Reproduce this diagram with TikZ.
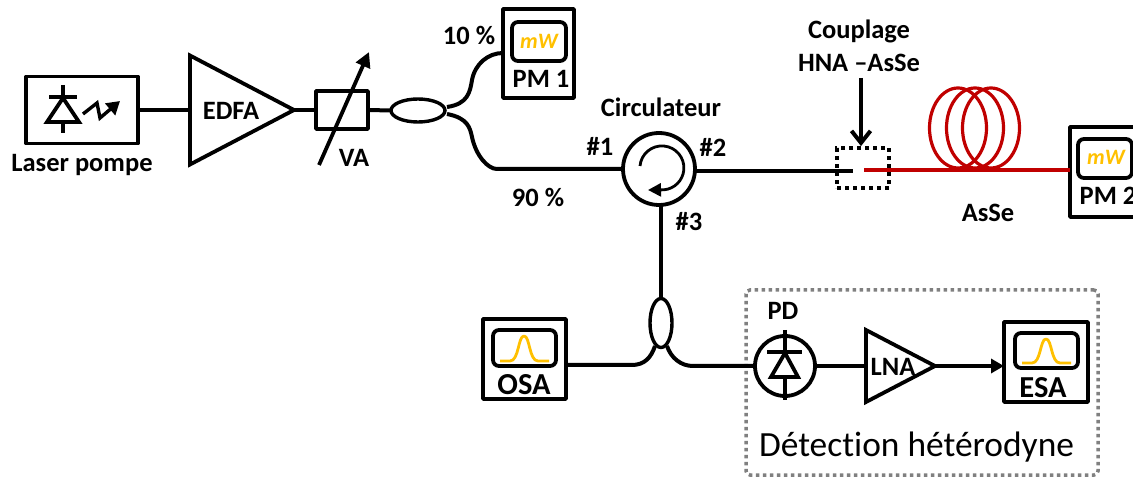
\documentclass[tikz,border=0pt]{standalone}
\usepackage{fontspec}
\setmainfont{Carlito}[Ligatures=NoCommon]
\usetikzlibrary{arrows.meta,shapes.geometric}
\definecolor{fibrered}{HTML}{C00000}
\definecolor{amber}{HTML}{FFC000}
\definecolor{framegray}{HTML}{808080}
\tikzset{
  fibre/.style={line width=4pt,line cap=butt},
  redfibre/.style={line width=3.8pt,color=fibrered},
  instr/.style={draw,line width=3.8pt,rectangle,inner sep=0pt,outer sep=0pt,line join=round},
  screen/.style={draw,line width=3.8pt,rectangle,rounded corners=6pt,inner sep=0pt,outer sep=0pt},
  ampli/.style={draw,line width=3.8pt,isosceles triangle,isosceles triangle stretches,inner sep=0pt,outer sep=0pt,shape border rotate=0,anchor=lower side},
  roundel/.style={draw,line width=3.8pt,circle,inner sep=0pt,outer sep=0pt},
  splitter/.style={draw,line width=3.4pt,ellipse,inner sep=0pt,outer sep=0pt},
  coil/.style={draw=fibrered,line width=3.2pt,ellipse,inner sep=0pt,outer sep=0pt,minimum width=57pt,minimum height=80pt},
  lbl/.style={font=\fontsize{26.5}{33}\selectfont\bfseries,inner sep=0pt,align=center},
  biglbl/.style={font=\fontsize{30.5}{33}\selectfont\bfseries,inner sep=0pt},
  unit/.style={font=\fontsize{22}{24}\selectfont\bfseries\itshape,text=amber,inner sep=0pt},
  peak/.style={draw=amber,line width=2.8pt,line join=round},
  pin/.style={line width=4pt},
  symb/.style={line width=3.8pt,line join=miter},
}
\begin{document}
\begin{tikzpicture}[x=1pt,y=-1pt]
\clip (0,0) rectangle (1133,478);

% detection frame
\node[draw=framegray,line width=3.5pt,dash pattern=on 3.5pt off 3.5pt,rectangle,rounded corners=4pt,inner sep=0pt,minimum width=352pt,minimum height=185pt] (frame) at (922,382.5) {};
\node[font=\fontsize{35.4}{38}\selectfont,inner sep=0pt] (dettext) at (916.5,447) {Détection hétérodyne};

% laser
\node[instr,minimum width=112pt,minimum height=67pt] (laser) at (82,110) {};
\draw[pin] (63,85) -- (63,133);
\draw[pin] (49,97) -- (77,97);
\draw[symb,fill=white] (63,98) -- (47,122) -- (79,122) -- cycle;
\draw[line width=3.4pt,-{Triangle[length=13pt,width=15pt]}] (83,114) -- (97,103) -- (100,118) -- (120,101);
\node[lbl] (lasertext) at (82,165) {Laser pompe};

% EDFA
\node[ampli,minimum height=104pt,minimum width=109pt] (edfa) at (190,110) {};
\node[lbl] (edfatext) at (231,111) {EDFA};

% VA
\node[instr,minimum width=52pt,minimum height=38pt] (va) at (342,110) {};
\coordinate (vatail) at (319,165);
\coordinate (vatip) at (369,52);
\draw[line width=3.8pt,-{Triangle[length=15pt,width=15pt]}] (vatail) -- (vatip);
\node[lbl] (vatext) at (354,158) {VA};

% first coupler
\node[splitter,minimum width=54pt,minimum height=23pt] (coup) at (418,110.5) {};

% PM 1
\node[instr,minimum width=71pt,minimum height=89pt] (pma) at (538.5,53.5) {};
\node[screen,minimum width=54pt,minimum height=39pt] (pmascreen) at (539,41.5) {};
\node[unit] (pmaunit) at (539,41) {mW};
\node[lbl] (pmatext) at (541,79) {PM 1};
\node[lbl] (ten) at (469,35) {10 \%};

% circulator
\node[roundel,minimum size=72pt] (circ) at (659,169) {};
\coordinate (circstart) at (640,166);
\draw[line width=2.8pt,-{Triangle[length=13pt,width=13pt]}] (circstart) arc[start angle=175,end angle=-85,radius=22pt] -- (648,190);
\node[lbl] (circtext) at (661,107) {Circulateur};
\node[lbl] (p1) at (600,146) {\#1};
\node[lbl] (p2) at (713,147) {\#2};
\node[lbl] (p3) at (689,222) {\#3};
\node[lbl] (ninety) at (538,197) {90 \%};

% junction
\node[draw,line width=3.8pt,dash pattern=on 4pt off 4pt,rectangle,inner sep=0pt,minimum width=52pt,minimum height=40pt] (joint) at (863,168) {};
\node[lbl] (jointtext) at (859,46) {Couplage\\HNA –AsSe};
\coordinate (blackend) at (853,171);
\coordinate (redstart) at (864,170);
\coordinate (jointarrow) at (861,78);

% coil
\node[coil] (coila) at (958,128) {};
\node[coil] (coilb) at (975,128) {};
\node[coil] (coilc) at (991,128) {};
\node[lbl] (assetext) at (988,213) {AsSe};

% PM 2
\node[instr,minimum width=71pt,minimum height=90pt] (pmb) at (1105.5,172) {};
\node[screen,minimum width=54pt,minimum height=39pt] (pmbscreen) at (1105,158.5) {};
\node[unit] (pmbunit) at (1106,157) {mW};
\node[lbl] (pmbtext) at (1108,196) {PM 2};

% second coupler
\node[splitter,minimum width=22pt,minimum height=49pt] (coupb) at (661,323) {};

% OSA
\node[instr,minimum width=83pt,minimum height=80pt] (osa) at (524.5,359) {};
\node[screen,minimum width=63pt,minimum height=36pt] (osascreen) at (524.5,348) {};
\draw[peak] (500,361) -- (510,361) .. controls (519,361) and (518,336) .. (524,336) .. controls (530,336) and (529,361) .. (538,361) -- (549,361);
\node[biglbl] (osatext) at (524,385) {OSA};

% PD
\node[roundel,minimum size=60pt] (pd) at (785,366) {};
\draw[pin] (785,330) -- (785,400);
\draw[pin] (767,352) -- (802,352);
\draw[symb,fill=white] (785,353) -- (771,377) -- (798,377) -- cycle;
\draw[pin] (785,377) -- (785,400);
\node[lbl] (pdtext) at (783,311) {PD};

% LNA
\node[ampli,minimum height=69pt,minimum width=72pt] (lna) at (866,366) {};
\node[lbl] (lnatext) at (893,367) {LNA};

% ESA
\node[instr,minimum width=84pt,minimum height=80pt] (esa) at (1046,362) {};
\node[screen,minimum width=63pt,minimum height=35pt] (esascreen) at (1046.5,350.5) {};
\draw[peak] (1022,363) -- (1032,363) .. controls (1041,363) and (1040,339) .. (1046,339) .. controls (1052,339) and (1051,363) .. (1060,363) -- (1071,363);
\node[biglbl] (esatext) at (1043,388) {ESA};

% connectors
\draw[fibre] (laser.east) -- (edfa.lower side);
\draw[fibre] (edfa.apex) -- (va.west);
\draw[fibre] (va.east) -- (coup.west);
\coordinate (upa) at (447,107);
\coordinate (downa) at (447,114);
\draw[fibre] (upa) .. controls (468,104) and (470,92) .. (472,80) .. controls (475,64) and (488,53) .. (pma.west |- 0,53);
\coordinate (portone) at (497,169);
\draw[fibre] (downa) .. controls (468,118) and (470,128) .. (472,137) .. controls (476,156) and (488,169) .. (portone) -- (circ.west |- portone);
\draw[fibre] (circ.east |- blackend) -- (blackend);
\draw[redfibre] (redstart) -- (redstart -| pmb.west);
\draw[line width=4pt,-{Straight Barb[length=12pt,width=19pt]}] (jointarrow) -- (joint.north -| jointarrow);
\draw[fibre] (circ.south -| coupb.north) -- (coupb.north);
\coordinate (leftb) at (655,346);
\coordinate (rightb) at (667,346);
\coordinate (leftbend) at (632,365);
\coordinate (rightbend) at (693,366);
\draw[fibre] (osa.east |- leftbend) -- (leftbend) .. controls (644,365) and (651,358) .. (leftb);
\draw[fibre] (rightb) .. controls (671,358) and (681,366) .. (rightbend) -- (pd.west);
\draw[fibre] (pd.east) -- (lna.lower side);
\draw[line width=3.8pt,-{Triangle[length=13pt,width=14pt]}] (lna.apex) -- (lna.apex -| esa.west);
\end{tikzpicture}
\end{document}
